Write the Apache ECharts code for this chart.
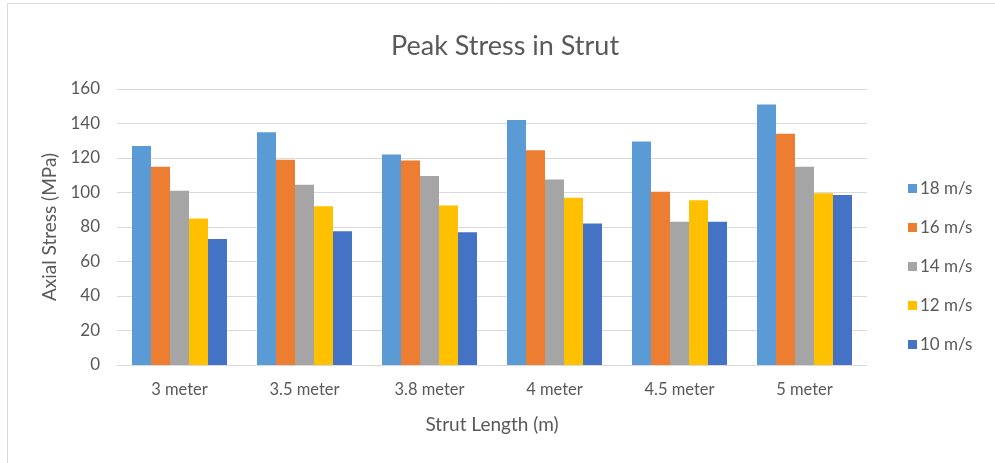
<!DOCTYPE html>
<html>
<head>
<meta charset="utf-8">
<script src="https://cdn.jsdelivr.net/npm/echarts@6/dist/echarts.min.js"></script>
<style>
  html, body { margin: 0; padding: 0; background: #fff; }
  #chart { width: 995px; height: 463px; }
</style>
</head>
<body>
<div id="chart"></div>
<script>
// Strut lengths along the x axis
const categories = ['3 meter', '3.5 meter', '3.8 meter', '4 meter', '4.5 meter', '5 meter'];

// Peak axial stress (MPa) per wind speed
const seriesNames = ['18 m/s', '16 m/s', '14 m/s', '12 m/s', '10 m/s'];
const stress18 = [127, 135, 122, 142, 129.5, 151];
const stress16 = [115, 119, 118.5, 124.5, 100.5, 134];
const stress14 = [101, 104.5, 109.5, 107.5, 83, 115];
const stress12 = [85, 92, 92.5, 97, 95.5, 99.5];
const stress10 = [73, 77.5, 77, 82, 83, 98.5];

const yTicks = { min: 0, max: 160, interval: 20 };

const colors = ['#5B9BD5', '#ED7D31', '#A5A5A5', '#FFC000', '#4472C4'];
const FONT = 'Lato';
const TEXT = '#595959';

const chart = echarts.init(document.getElementById('chart'));
const values = [stress18, stress16, stress14, stress12, stress10];

chart.setOption({
  animation: false,
  textStyle: { fontFamily: FONT },
  color: colors,
  title: {
    text: 'Peak Stress in Strut',
    left: 386, top: 28,
    textStyle: { fontFamily: FONT, fontSize: 27, fontWeight: 'normal', color: TEXT }
  },
  graphic: [{
    type: 'rect',
    shape: { x: 7.5, y: 3.5, width: 1000, height: 500 },
    style: { fill: 'none', stroke: '#d9d9d9', lineWidth: 1 },
    silent: true
  }],
  legend: {
    orient: 'vertical',
    left: 903, top: 175,
    itemWidth: 9, itemHeight: 9, itemGap: 22,
    icon: 'rect',
    textStyle: { fontFamily: FONT, fontSize: 17, color: TEXT, padding: [0, 0, 0, -2] },
    data: seriesNames
  },
  grid: { left: 117, right: 128, top: 89, bottom: 98, containLabel: false },
  xAxis: {
    type: 'category',
    data: categories,
    name: 'Strut Length (m)',
    nameLocation: 'middle', nameGap: 50,
    nameTextStyle: { fontFamily: FONT, fontSize: 19, color: TEXT },
    axisLine: { lineStyle: { color: '#d9d9d9' } },
    axisTick: { show: false },
    axisLabel: { fontFamily: FONT, fontSize: 16.5, color: TEXT, margin: 16 }
  },
  yAxis: {
    type: 'value',
    min: yTicks.min, max: yTicks.max, interval: yTicks.interval,
    name: 'Axial Stress (MPa)',
    nameLocation: 'middle', nameGap: 53,
    nameTextStyle: { fontFamily: FONT, fontSize: 19, color: TEXT },
    axisLine: { show: false },
    axisTick: { show: false },
    axisLabel: { fontFamily: FONT, fontSize: 17, color: TEXT, margin: 17 },
    splitLine: { lineStyle: { color: '#d9d9d9' } }
  },
  series: seriesNames.map((name, i) => ({
    name,
    type: 'bar',
    data: values[i],
    barGap: '0%',
    barCategoryGap: '24%'
  }))
});
</script>
</body>
</html>
